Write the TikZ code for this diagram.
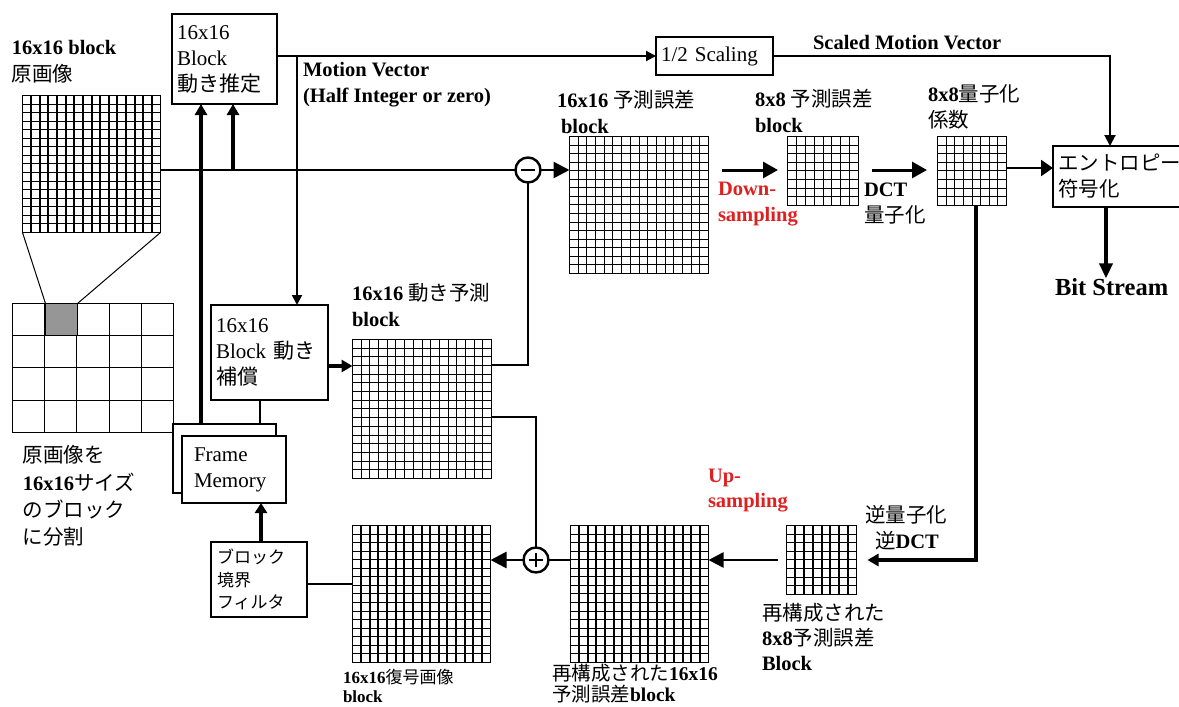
\documentclass[tikz,border=0pt]{standalone}
\usepackage{fontspec}
\setmainfont{Liberation Serif}
\newfontfamily\jpfont{Noto Sans CJK JP}
\newcommand\ja[1]{{\jpfont #1}}
\usetikzlibrary{arrows.meta,calc}
\definecolor{redtxt}{RGB}{222,32,32}
\definecolor{cellgray}{RGB}{150,150,150}
\begin{document}
\begin{tikzpicture}[x=1pt,y=-1pt,
  every node/.style={font=\fontsize{20.5}{26}\selectfont, inner sep=0pt, outer sep=0pt},
  lbl/.style={anchor=west, align=left},
  gridcells/.style n args={2}{path picture={
     \pgfpointanchor{path picture bounding box}{south west}\pgfgetlastxy\gxa\gya
     \pgfpointanchor{path picture bounding box}{north east}\pgfgetlastxy\gxb\gyb
     \pgfmathtruncatemacro\gcm{#1-1}
     \pgfmathtruncatemacro\grm{#2-1}
     \foreach \k in {1,...,\gcm}{\pgfmathsetmacro\gx{floor(\gxa+\k*(\gxb-\gxa)/#1)+0.5}\draw[line width=1.1pt] (\gx pt,\gya) -- (\gx pt,\gyb);}
     \foreach \k in {1,...,\grm}{\pgfmathsetmacro\gy{floor(\gya+\k*(\gyb-\gya)/#2)+0.5}\draw[line width=1.1pt] (\gxa,\gy pt) -- (\gxb,\gy pt);}
  }},
  gridbox/.style n args={4}{draw, line width=1.3pt, fill=white, minimum width=#1, minimum height=#2, gridcells={#3}{#4}},
  boxnode/.style={draw, line width=2.6pt, fill=white, align=left, inner xsep=5pt, font=\fontsize{21}{26}\selectfont},
  opc/.style={circle, draw, line width=2.4pt, minimum size=25pt, fill=white},
  minusc/.style={opc, path picture={\draw[line width=2pt] ([xshift=-7pt]path picture bounding box.center) -- ([xshift=7pt]path picture bounding box.center);}},
  plusc/.style={opc, path picture={\draw[line width=2pt] ([xshift=-7pt]path picture bounding box.center) -- ([xshift=7pt]path picture bounding box.center); \draw[line width=2pt] ([yshift=-7pt]path picture bounding box.center) -- ([yshift=7pt]path picture bounding box.center);}},
  redlbl/.style={lbl, text=redtxt, font=\fontsize{20.5}{26}\selectfont\bfseries},
]
\useasboundingbox (0,0) rectangle (1179,707);

% grids
\node[gridbox={138pt}{137pt}{16}{16}] (origgrid) at (91.5,164) {};
\node[gridbox={161pt}{129pt}{5}{4}, fill=none] (partgrid) at (93,368) {};
\node[draw, line width=1.3pt, fill=cellgray, minimum width=32pt, minimum height=32pt] (cell) at (61.5,319.5) {};
\node[gridbox={139pt}{137pt}{16}{16}] (errgrid) at (639,205) {};
\node[gridbox={71pt}{69pt}{8}{8}] (grid8a) at (823,171) {};
\node[gridbox={69pt}{69pt}{8}{8}] (grid8b) at (972,171) {};
\node[gridbox={139pt}{139pt}{16}{16}] (predgrid) at (422,409) {};
\node[gridbox={138pt}{137pt}{16}{16}] (decgrid) at (421.5,594) {};
\node[gridbox={138pt}{137pt}{16}{16}] (recgrid16) at (639.5,594) {};
\node[gridbox={70pt}{69pt}{8}{8}] (recgrid8) at (821.5,560) {};

% boxes
\node[boxnode, text width=95pt, minimum height=90pt] (ME) at (224.5,59) {16x16\\Block\\\ja{動き推定}};
\node[boxnode, text width=107pt, minimum height=38pt] (scaling) at (714.5,56) {1/2 Scaling};
\node[boxnode, text width=107pt, minimum height=95pt] (MC) at (269.5,352.5) {16x16\\Block \ja{動き}\\\ja{補償}};
\node[draw, line width=2.6pt, fill=white, minimum width=103pt, minimum height=69pt] (fmback) at (224.5,458.5) {};
\node[boxnode, inner xsep=12pt, text width=80pt, minimum height=67pt] (fmfront) at (234,469.5) {Frame\\Memory};
\node[boxnode, inner xsep=6pt, text width=84pt, minimum height=75pt, font=\fontsize{17}{22.5}\selectfont] (filter) at (259,579.5) {\ja{ブロック}\\\ja{境界}\\\ja{フィルタ}};
\node[boxnode, line width=1.5pt, text width=124pt, minimum height=61pt, font=\fontsize{20.5}{26}\selectfont] (entropy) at (1120,176.5) {\ja{エントロピー}\\\ja{符号化}};

% operators
\node[minusc] (minus) at (528,170) {};
\node[plusc] (plus) at (536,560) {};

% labels
\node[lbl, font=\fontsize{20.5}{27}\selectfont] (l1) at (12,61.5) {\textbf{16x16 block}\\\ja{原画像}};
\node[lbl, font=\fontsize{20.5}{26}\selectfont\bfseries] (lmv) at (303,84.5) {Motion Vector\\(Half Integer or zero)};
\node[lbl, font=\fontsize{20.5}{26}\selectfont\bfseries] (lsmv) at (813,43) {Scaled Motion Vector};
\node[lbl] (lerr) at (557,111.5) {\textbf{16x16} \ja{予測誤差}\\\hspace{4pt}\textbf{block}};
\node[lbl] (l8a) at (755,111) {\textbf{8x8} \ja{予測誤差}\\\textbf{block}};
\node[lbl] (lq) at (928,107) {\textbf{8x8}\ja{量子化}\\\ja{係数}};
\node[redlbl] (ldown) at (718,204) {Down-\\sampling};
\node[lbl] (ldct) at (864,204) {\textbf{DCT}\\\ja{量子化}};
\node[lbl, font=\fontsize{24.5}{28}\selectfont\bfseries] (bits) at (1055,287) {Bit Stream};
\node[lbl] (lpred) at (352,304.5) {\textbf{16x16} \ja{動き予測}\\\textbf{block}};
\node[lbl, font=\fontsize{20.5}{27.3}\selectfont] (lleft) at (23,496) {\ja{原画像を}\\\textbf{16x16}\ja{サイズ}\\\ja{のブロック}\\\ja{に分割}};
\node[redlbl, font=\fontsize{20.5}{25}\selectfont\bfseries] (lup) at (708,490.5) {Up-\\sampling};
\node[lbl] (linv) at (865,527.5) {\ja{逆量子化}\\\hspace{10pt}\ja{逆}\textbf{DCT}};
\node[lbl, font=\fontsize{20.5}{25}\selectfont] (lrec8) at (762,637) {\ja{再構成された}\\\textbf{8x8}\ja{予測誤差}\\\textbf{Block}};
\node[lbl, font=\fontsize{19.5}{21}\selectfont] (lrec16) at (552,684) {\ja{再構成された}\textbf{16x16}\\\ja{予測誤差}\textbf{block}};
\node[lbl, font=\fontsize{17}{19}\selectfont] (ldec) at (343,686) {\textbf{16x16}\ja{復号画像}\\\textbf{block}};

% coordinates
\coordinate (j1) at (233,170);
\coordinate (fmj) at ([xshift=28pt]fmback.north west);
\coordinate (mvj) at (297,56);
\coordinate (smvj) at (1110,56);
\coordinate (ds1) at (722,170);
\coordinate (ds2) at (778,170);
\coordinate (dc1) at (872,170);
\coordinate (dc2) at (927,170);
\coordinate (q1) at ([yshift=3pt]grid8b.east);
\coordinate (bs1) at ([xshift=-14pt]entropy.south);
\coordinate (r1) at ([xshift=4pt]grid8b.south);
\coordinate (r2) at ([xshift=11pt]recgrid8.east);
\coordinate (u1) at ([xshift=-9pt]recgrid8.west);
\coordinate (p1) at ([yshift=-8pt]predgrid.east);
\coordinate (p2) at ([yshift=44pt]predgrid.east);
\coordinate (m1) at ([yshift=-13.5pt]MC.east);
\coordinate (m2) at ([xshift=-9.5pt]MC.south);
\coordinate (f1) at ([xshift=2pt]filter.north);
\coordinate (f2) at ([yshift=-4.5pt]filter.east);

% connectors
\draw[line width=1pt] (origgrid.south west) -- (cell.north west);
\draw[line width=1pt] (origgrid.south east) -- (cell.north east);
\draw[line width=2.2pt] (origgrid.east |- minus) -- (minus.west);
\draw[line width=4pt,-{Triangle[length=11pt,width=12pt]}] (j1) -- (j1 |- ME.south);
\draw[line width=4pt,-{Triangle[length=11pt,width=12pt]}] (fmj) -- (fmj |- ME.south);
\draw[line width=2pt,-{Triangle[length=10pt,width=10pt]}] (ME.east |- scaling) -- (scaling.west);
\draw[line width=2pt,-{Triangle[length=10pt,width=10pt]}] (mvj) -- (mvj |- MC.north);
\draw[line width=2pt,-{Triangle[length=11pt,width=11pt]}] (scaling.east) -- (smvj) -- (smvj |- entropy.north);
\draw[line width=2.5pt,-{Triangle[length=16pt,width=16pt]}] (minus.east) -- (minus.east -| errgrid.west);
\draw[line width=3pt,-{Triangle[length=15pt,width=16pt]}] (ds1) -- (ds2);
\draw[line width=3pt,-{Triangle[length=15pt,width=16pt]}] (dc1) -- (dc2);
\draw[line width=2.5pt,-{Triangle[length=12pt,width=16pt]}] (q1) -- (q1 -| entropy.west);
\draw[line width=4pt,-{Triangle[length=15pt,width=13pt]}] (bs1) -- (bs1 |- bits.north);
\draw[line width=3.5pt,-{Triangle[length=11pt,width=12pt]}] (r1) |- (r2);
\draw[line width=2.5pt,-{Triangle[length=15pt,width=15pt]}] (u1) -- (u1 -| recgrid16.east);
\draw[line width=2.2pt] (plus.east -| recgrid16.west) -- (plus.east);
\draw[line width=2.5pt,-{Triangle[length=16pt,width=16pt]}] (plus.west) -- (plus.west -| decgrid.east);
\draw[line width=2.2pt] (plus.north) |- (p1);
\draw[line width=2.5pt] (p2) -| (minus.south);
\draw[line width=3.5pt,-{Triangle[length=11pt,width=12pt]}] (m1) -- (m1 -| predgrid.west);
\draw[line width=2pt] (m2) -- (m2 |- fmback.north);
\draw[line width=4pt,-{Triangle[length=10pt,width=12pt]}] (f1) -- (f1 |- fmfront.south);
\draw[line width=2.2pt] (f2) -- (f2 -| decgrid.west);
\end{tikzpicture}
\end{document}
